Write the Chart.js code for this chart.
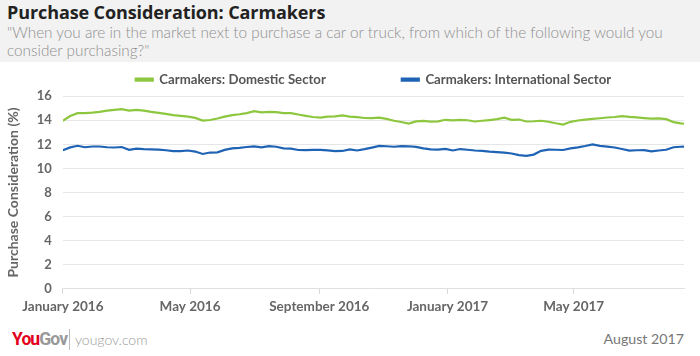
<!DOCTYPE html>
<html><head><meta charset="utf-8">
<script src="https://cdn.jsdelivr.net/npm/chart.js@4"></script>
<style>
html,body{margin:0;padding:0;background:#fff;}
#wrap{position:relative;width:700px;height:356px;overflow:hidden;font-family:Lato,"Open Sans",sans-serif;}
#head{position:absolute;left:0;top:0;width:700px;height:62px;background:#f2f2f2;}
#title{position:absolute;left:7px;top:3px;font-family:"Open Sans",sans-serif;font-weight:700;font-size:18px;line-height:18px;color:#222;letter-spacing:-0.1px;white-space:nowrap;}
#sub{position:absolute;left:7px;top:23px;width:690px;font-family:Lato,sans-serif;font-weight:300;font-size:15.3px;line-height:18px;color:#8f8f8f;}
#cv{position:absolute;left:0;top:62px;width:700px;height:266px;}
#logo{position:absolute;left:12px;top:329px;font-family:Roboto,sans-serif;font-weight:700;font-size:17.5px;letter-spacing:-0.9px;white-space:nowrap;}
#logo .you{color:#e3001b;}#logo .gov{color:#999;}
#bar{position:absolute;left:69px;top:329px;width:1px;height:21px;background:#bbb;}
#site{position:absolute;left:75px;top:331px;font-family:Lato,sans-serif;font-weight:300;font-size:14px;color:#999;}
#date{position:absolute;right:16px;top:330px;font-family:Lato,sans-serif;font-weight:400;font-size:14.2px;color:#777;}
</style></head>
<body><div id="wrap">
<div id="head"><div id="title">Purchase Consideration: Carmakers</div>
<div id="sub">"When you are in the market next to purchase a car or truck, from which of the following would you consider purchasing?"</div></div>
<div id="cv"><canvas id="c"></canvas></div>
<div id="logo"><span class="you">You</span><span class="gov">Gov</span></div>
<div id="bar"></div><div id="site">yougov.com</div>
<div id="date">August 2017</div>
</div>
<script>
const seriesNames = ['Carmakers: Domestic Sector', 'Carmakers: International Sector'];
const dates = ['2016-01-01','2016-01-08','2016-01-15','2016-01-22','2016-01-29','2016-02-05','2016-02-12','2016-02-19','2016-02-26','2016-03-04',
'2016-03-11','2016-03-18','2016-03-25','2016-04-01','2016-04-08','2016-04-15','2016-04-22','2016-04-29','2016-05-06','2016-05-13',
'2016-05-20','2016-05-27','2016-06-03','2016-06-10','2016-06-17','2016-06-24','2016-07-01','2016-07-08','2016-07-15','2016-07-22',
'2016-07-29','2016-08-05','2016-08-12','2016-08-19','2016-08-26','2016-09-02','2016-09-09','2016-09-16','2016-09-23','2016-09-30',
'2016-10-07','2016-10-14','2016-10-21','2016-10-28','2016-11-04','2016-11-11','2016-11-18','2016-11-25','2016-12-02','2016-12-09',
'2016-12-16','2016-12-23','2016-12-30','2017-01-06','2017-01-13','2017-01-20','2017-01-27','2017-02-03','2017-02-10','2017-02-17',
'2017-02-24','2017-03-03','2017-03-10','2017-03-17','2017-03-24','2017-03-31','2017-04-07','2017-04-14','2017-04-21','2017-04-28',
'2017-05-05','2017-05-12','2017-05-19','2017-05-26','2017-06-02','2017-06-09','2017-06-16','2017-06-23','2017-06-30','2017-07-07',
'2017-07-14','2017-07-21','2017-07-28','2017-08-04','2017-08-11','2017-08-14'];
const domestic = [13.96,14.35,14.59,14.59,14.63,14.70,14.80,14.87,14.93,14.80,
14.87,14.80,14.70,14.62,14.53,14.43,14.36,14.30,14.20,13.97,
14.02,14.15,14.30,14.43,14.50,14.60,14.76,14.66,14.69,14.67,
14.59,14.59,14.48,14.37,14.27,14.22,14.30,14.33,14.40,14.31,
14.26,14.19,14.18,14.22,14.12,13.96,13.86,13.72,13.91,13.95,
13.89,13.91,14.04,14.00,14.03,14.00,13.90,13.96,14.02,14.09,
14.22,14.04,14.06,13.90,13.92,13.96,13.88,13.75,13.64,13.87,
13.98,14.05,14.11,14.17,14.23,14.27,14.35,14.28,14.24,14.18,
14.13,14.16,14.09,13.85,13.74,13.71];
const international = [11.51,11.75,11.88,11.76,11.82,11.82,11.76,11.74,11.78,11.55,
11.64,11.60,11.58,11.56,11.51,11.44,11.44,11.49,11.40,11.20,
11.32,11.33,11.54,11.66,11.71,11.78,11.83,11.75,11.85,11.80,
11.67,11.65,11.53,11.52,11.54,11.54,11.50,11.44,11.45,11.58,
11.49,11.60,11.73,11.87,11.84,11.80,11.86,11.84,11.79,11.66,
11.58,11.57,11.62,11.49,11.61,11.55,11.49,11.45,11.39,11.36,
11.32,11.24,11.10,11.04,11.15,11.46,11.56,11.55,11.53,11.66,
11.75,11.86,11.99,11.88,11.81,11.74,11.61,11.48,11.51,11.52,
11.41,11.49,11.55,11.76,11.80,11.81];
const tickDates = ['2016-01-01','2016-05-01','2016-09-01','2017-01-01','2017-05-01'];
const tickLabels = ['January 2016','May 2016','September 2016','January 2017','May 2017'];
const yTicks = [0,2,4,6,8,10,12,14,16];
const yTitle = 'Purchase Consideration (%)';

function dayOf(s){const p=s.split('-').map(Number);return (Date.UTC(p[0],p[1]-1,p[2])-Date.UTC(2016,0,1))/86400000;}
const xs = dates.map(dayOf);
const tickXs = tickDates.map(dayOf);
const toPts = v => v.map((y,i)=>({x:xs[i],y:y}));
const grey = '#666';
new Chart(document.getElementById('c'), {
  type:'line',
  data:{datasets:[
    {label:seriesNames[0],data:toPts(domestic),borderColor:'#8dc63f',backgroundColor:'#8dc63f',borderWidth:2.2,pointRadius:0,tension:0},
    {label:seriesNames[1],data:toPts(international),borderColor:'#1f63b4',backgroundColor:'#1f63b4',borderWidth:2.2,pointRadius:0,tension:0}
  ]},
  options:{
    responsive:true,maintainAspectRatio:false,animation:false,
    layout:{padding:{left:5,right:16,top:1,bottom:8}},
    plugins:{
      legend:{position:'top',fullSize:false,
        labels:{boxWidth:17,boxHeight:2,padding:10,color:'#555',font:{family:'Lato',weight:'bold',size:13.2},
          generateLabels:(chart)=>{
            const items = Chart.defaults.plugins.legend.labels.generateLabels(chart);
            items[0].text = items[0].text + '\u2002'.repeat(10);
            return items;
          }}},
      tooltip:{enabled:false}
    },
    scales:{
      x:{type:'linear',min:0,max:xs[xs.length-1],
        afterBuildTicks:ax=>{ax.ticks=tickXs.map(v=>({value:v}));},
        ticks:{autoSkip:false,maxRotation:0,color:grey,font:{family:'Lato',weight:'bold',size:13.5},padding:5,
          callback:(v)=>{const i=tickXs.indexOf(v);return i>=0?tickLabels[i]:'';}},
        grid:{drawOnChartArea:false,drawTicks:true,tickLength:5,color:'#d8d8d8'},
        border:{display:true,color:'#e0e0e0'}
      },
      y:{min:0,max:16,
        afterBuildTicks:ax=>{ax.ticks=yTicks.map(v=>({value:v}));},
        ticks:{color:grey,font:{family:'Lato',weight:'bold',size:13},padding:11},
        grid:{color:'#e6e6e6',drawTicks:false},
        border:{display:false},
        title:{display:true,text:yTitle,color:grey,font:{family:'Lato',weight:'bold',size:14},padding:{top:0,bottom:4}}
      }
    }
  }
});
</script>
</body></html>
